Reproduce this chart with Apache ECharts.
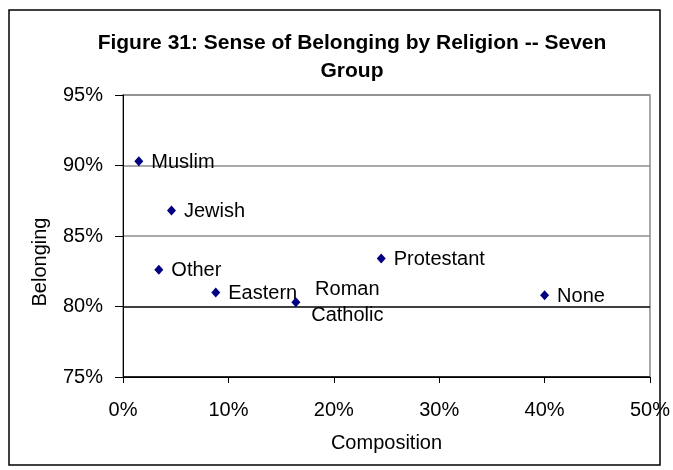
<!DOCTYPE html>
<html><head><meta charset="utf-8">
<script src="https://cdn.jsdelivr.net/npm/echarts@6/dist/echarts.min.js"></script>
<style>html,body{margin:0;padding:0;background:#fff}#c{width:673px;height:470px}</style>
</head><body><div id="c"></div>
<script>
var names = ["Muslim","Jewish","Other","Eastern","Roman\nCatholic","Protestant","None"];
var composition = [1.5, 4.6, 3.4, 8.8, 16.4, 24.5, 40.0];
var belonging = [90.3, 86.8, 82.6, 81.0, 80.3, 83.4, 80.8];
var xTicks = [0,10,20,30,40,50];
var yTicks = [75,80,85,90,95];

var chart = echarts.init(document.getElementById('c'));
var font = 'Liberation Sans, Arial, sans-serif';
var data = names.map(function(n,i){
  var d = {value:[composition[i], belonging[i]], name:n};
  if (n.indexOf('Roman')===0) {
    d.label = {position:[56,5], align:'center', verticalAlign:'middle', lineHeight:26, offset:[0,0]};
  }
  return d;
});
chart.setOption({
  animation:false,
  backgroundColor:'#fff',
  title:{text:'Figure 31: Sense of Belonging by Religion -- Seven\nGroup', left:347, textAlign:'center', top:24,
    textStyle:{fontFamily:font, fontSize:21, fontWeight:'bold', color:'#000', lineHeight:28}},
  graphic:[{type:'rect', shape:{x:9,y:10,width:651,height:455}, style:{fill:null, stroke:'#000', lineWidth:1.5}, z:100}],
  grid:{left:123, right:23, top:95, bottom:93, show:true, borderColor:'#8c8c8c', borderWidth:1.5},
  xAxis:{type:'value', min:0, max:50, interval:10, name:'Composition', nameLocation:'middle', nameGap:56,
    nameTextStyle:{fontFamily:font, fontSize:20, color:'#000'},
    axisLine:{onZero:false, lineStyle:{color:'#000', width:1}},
    axisTick:{show:true, length:6, lineStyle:{color:'#000'}},
    splitLine:{show:false},
    axisLabel:{fontFamily:font, fontSize:20, color:'#000', margin:23, formatter:function(v){return v+'%';}}},
  yAxis:{type:'value', min:75, max:95, interval:5, name:'Belonging', nameLocation:'middle', nameGap:73, nameRotate:90,
    nameTextStyle:{fontFamily:font, fontSize:20, color:'#000', padding:[0,52,0,0]},
    axisLine:{onZero:false, lineStyle:{color:'#000', width:1}},
    axisTick:{show:true, length:8, lineStyle:{color:'#000'}},
    splitLine:{show:true, lineStyle:{color:['#000','#000','#8c8c8c','#8c8c8c','#8c8c8c'], width:1.5}},
    axisLabel:{fontFamily:font, fontSize:20, color:'#000', margin:20, formatter:function(v){return v+'%';}}},
  series:[{type:'scatter', symbol:'diamond', symbolSize:[9,10], itemStyle:{color:'#000080', opacity:1},
    data:data,
    label:{show:true, position:'right', distance:8, formatter:'{b}', fontFamily:font, fontSize:20, color:'#000', offset:[0,1]}}]
});
</script></body></html>
